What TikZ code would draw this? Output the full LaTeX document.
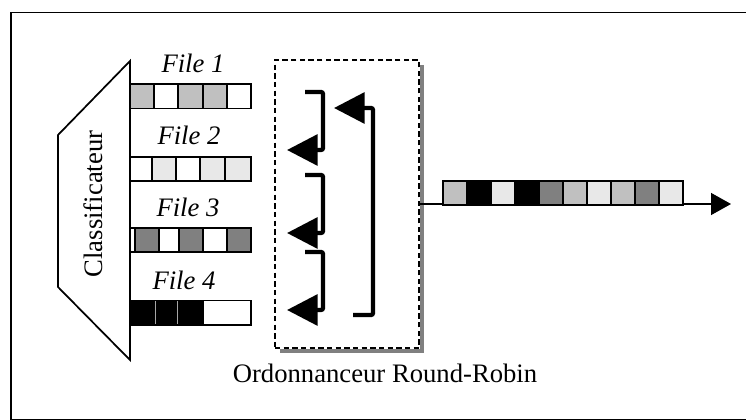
\documentclass[tikz,border=0pt]{standalone}
\usepackage{fontspec}
\setmainfont{Liberation Serif}
\usetikzlibrary{arrows.meta}
\definecolor{cellgray}{RGB}{192,192,192}
\definecolor{celllight}{RGB}{232,232,232}
\definecolor{celldark}{RGB}{128,128,128}
\tikzset{every picture/.style={line width=0.75pt}}

\begin{document}
\begin{tikzpicture}[x=0.75pt,y=0.75pt,yscale=-1,xscale=1,
  cell/.style={draw=black, line width=1.3pt},
  lbl/.style={font=\fontsize{20}{24}\selectfont},
  filelbl/.style={font=\fontsize{20}{24}\selectfont\itshape, anchor=base},
  rrarrow/.style={line width=3.2pt, rounded corners=1.5pt, -{Triangle[length=23pt,width=23pt]}},
  schedbox/.style={draw, line width=1.3pt, dash pattern=on 4pt off 2.5pt, fill=white, minimum width=108pt, minimum height=216pt, inner sep=0pt}]
\useasboundingbox (0,0) rectangle (746,420);

%Frame
\draw [line width=1.4pt] (11,12.5) rectangle (760,419.5);

%Classifier
\draw [line width=1.3pt] (130,61) -- (58,135) -- (58,287) -- (130,360) -- cycle;
\node [lbl, rotate=90] (classif) at (93,204) {Classificateur};

%Queues
\foreach \a/\b/\c in {130/154/cellgray, 154/178/white, 178/203/cellgray, 203/227/cellgray, 227/251/white}
  \draw [cell, fill=\c] (\a,84) rectangle (\b,108.5);
\foreach \a/\b/\c in {130/152/white, 152/176/celllight, 176/200/white, 200/225/celllight, 225/251/celllight}
  \draw [cell, fill=\c] (\a,157) rectangle (\b,181);
\foreach \a/\b/\c in {130/135/white, 135/159/celldark, 159/179/white, 179/203/celldark, 203/227/white, 227/251/celldark}
  \draw [cell, fill=\c] (\a,228) rectangle (\b,252);
\foreach \a/\b/\c in {130/155/black, 155/177/black, 177/203/black, 203/251/white}
  \draw [cell, fill=\c] (\a,300.5) rectangle (\b,325);
\draw [gray!70, line width=0.5pt] (155,301.5) -- (155,324) (177,301.5) -- (177,324);

% Text Node
\node [filelbl] (file1) at (193,72.5) {File 1};
\node [filelbl] (file2) at (189,145) {File 2};
\node [filelbl] (file3) at (188,216.5) {File 3};
\node [filelbl] (file4) at (184,289.5) {File 4};

%Scheduler
\draw [celldark, line width=3pt] (280,351.3) -- (422,351.3) -- (422,65);
\node [schedbox] (sched) at (347,204) {};
\node [lbl, anchor=base] (schedlbl) at (385,382) {Ordonnanceur Round-Robin};

\draw [rrarrow] (305,92) -- (323,92) -- (323,150) -- (287,150);
\draw [rrarrow] (305,175) -- (323,175) -- (323,233) -- (287,233);
\draw [rrarrow] (305,252) -- (323,252) -- (323,310) -- (287,310);
\draw [rrarrow] (353,315) -- (373,315) -- (373,108) -- (334,108);

%Output
\coordinate (outend) at (731,204);
\draw [line width=1pt, -{Triangle[length=15pt,width=16.5pt]}] (sched.east) -- (outend);
\foreach \c [count=\i from 0] in {cellgray,black,celllight,black,celldark,cellgray,celllight,cellgray,celldark,celllight}
  \draw [cell, fill=\c] (443+24*\i,181) rectangle ++(24,24);

\end{tikzpicture}
\end{document}
